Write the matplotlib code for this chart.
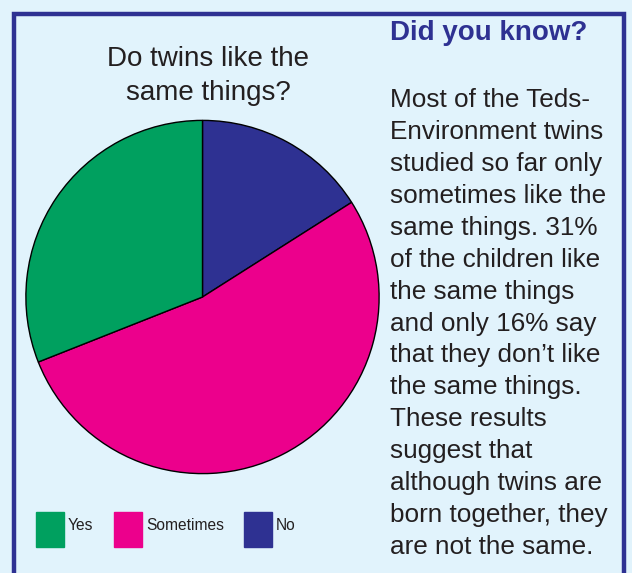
import matplotlib.pyplot as plt
from matplotlib.patches import Rectangle

# data
labels = ['Yes', 'Sometimes', 'No']
values = [31, 53, 16]
colors = ['#00a05f', '#ec008c', '#2e3192']

title = 'Do twins like the\nsame things?'
side_head = 'Did you know?'
side_lines = [
    'Most of the Teds-',
    'Environment twins',
    'studied so far only',
    'sometimes like the',
    'same things. 31%',
    'of the children like',
    'the same things',
    'and only 16% say',
    'that they don\u2019t like',
    'the same things.',
    'These results',
    'suggest that',
    'although twins are',
    'born together, they',
    'are not the same.',
]

W, H = 632, 573
BG = '#e1f3fc'
plt.rcParams['font.family'] = ['Liberation Sans', 'DejaVu Sans']

fig = plt.figure(figsize=(W / 100, H / 100), dpi=100, facecolor=BG)

# border frame (bottom runs off the image)
fig.patches.append(Rectangle((14 / W, -0.05), (624 - 14) / W, (573 - 14) / H + 0.05,
                             transform=fig.transFigure, fill=False,
                             edgecolor='#2e3192', linewidth=3.2))

# pie, drawn clockwise from the top: No, Sometimes, Yes
cx, cy, r = 202.5, 297, 177.5
ax = fig.add_axes([(cx - r) / W, (H - cy - r) / H, 2 * r / W, 2 * r / H])
ax.pie(values[::-1], colors=colors[::-1], startangle=90, counterclock=False,
       radius=1, wedgeprops=dict(edgecolor='black', linewidth=1.0))
ax.set_xlim(-1.005, 1.005)
ax.set_ylim(-1.005, 1.005)
ax.set_aspect('equal')
ax.axis('off')

fig.text(208 / W, 1 - 76 / H, title, ha='center', va='center', fontsize=20,
         color='#231f20', linespacing=1.42)

# legend
for x, lab, col in zip([36, 114, 244], labels, colors):
    fig.patches.append(Rectangle((x / W, 1 - 547 / H), 28 / W, 35 / H,
                                 transform=fig.transFigure, color=col))
    fig.text((x + 32) / W, 1 - 526 / H, lab, ha='left', va='center',
             fontsize=11.2, color='#231f20')

# side text
fig.text(390 / W, 1 - 33 / H, side_head, ha='left', va='center', fontsize=20,
         fontweight='bold', color='#2e3192')
for i, line in enumerate(side_lines):
    fig.text(390 / W, 1 - (100 + 31.93 * i) / H, line, ha='left', va='center',
             fontsize=18.8, color='#231f20')

fig.savefig('out.png', dpi=100, facecolor=BG)
